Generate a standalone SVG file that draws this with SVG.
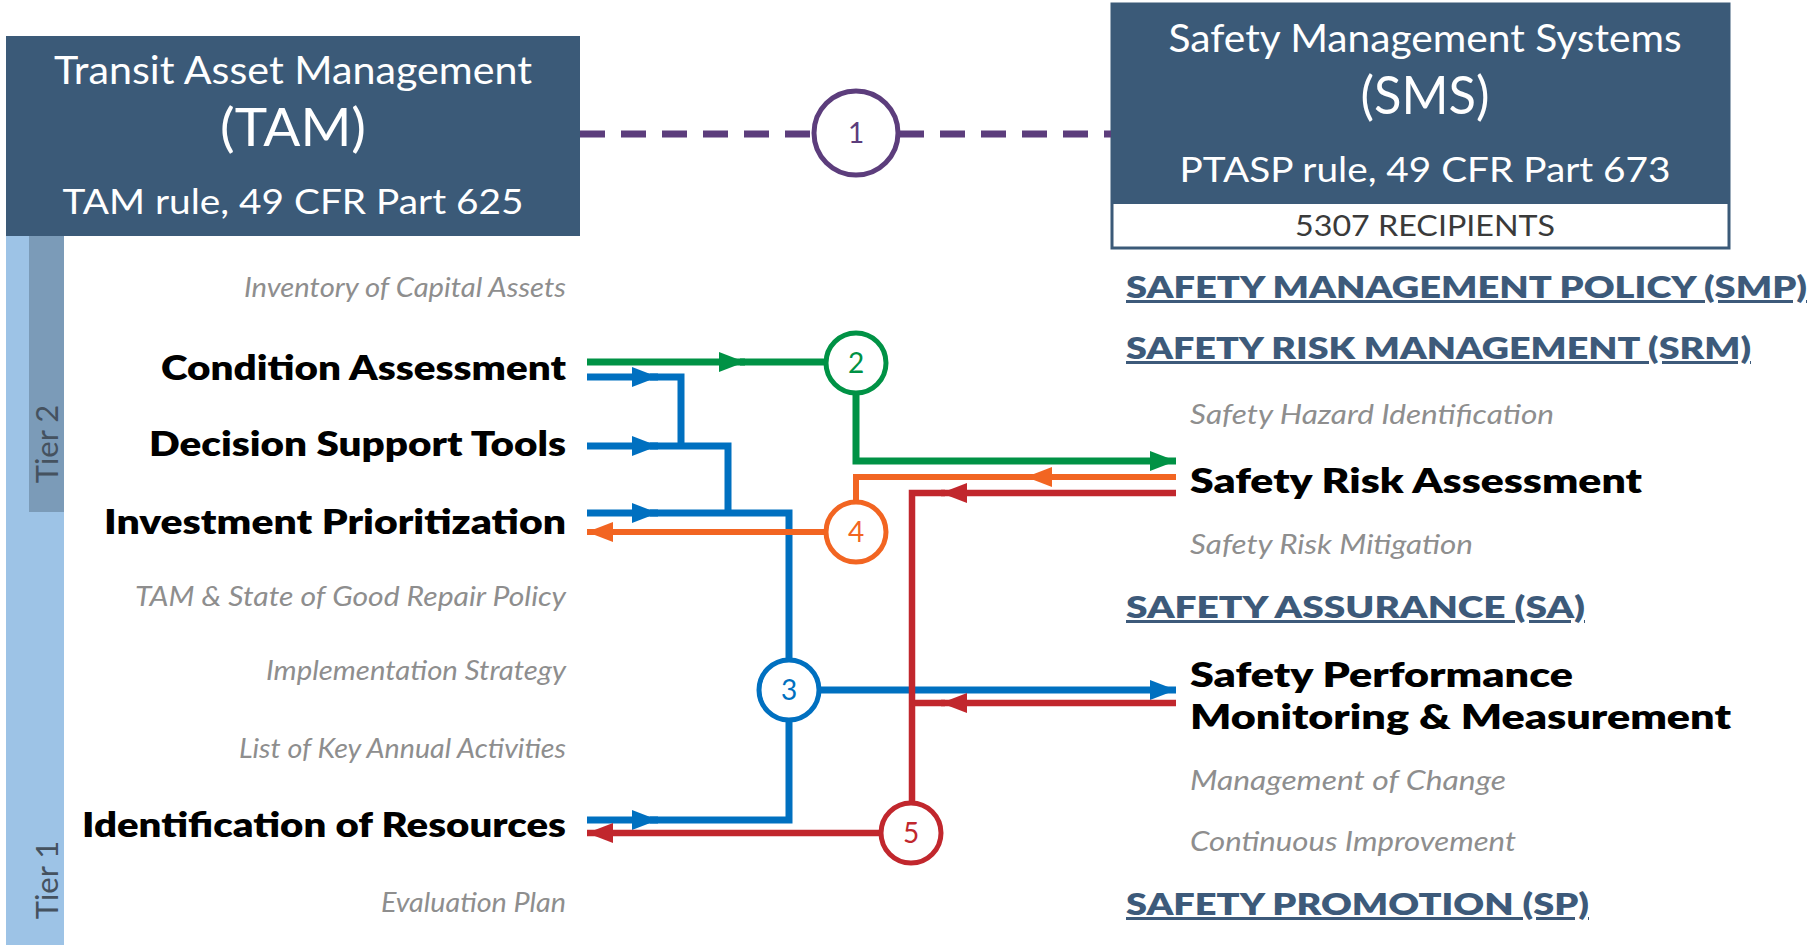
<svg xmlns="http://www.w3.org/2000/svg" xmlns:xlink="http://www.w3.org/1999/xlink" width="1811" height="945" viewBox="0 0 1811 945">
<style>
.t{font-family:"Lato","Liberation Sans",sans-serif}
.hw{fill:#ffffff}
.b{font-weight:800;font-size:34px;fill:#000}
.i{font-style:italic;font-size:27px;fill:#8e8e8e}
.h{font-weight:800;font-size:30px;fill:#3d5a7a;text-decoration:underline}
.num{font-size:28px;text-anchor:middle}
.cg{fill:#fff;stroke:#009245;stroke-width:5}
.cb{fill:#fff;stroke:#0070c0;stroke-width:5}
.co{fill:#fff;stroke:#f26522;stroke-width:5}
.cr{fill:#fff;stroke:#c1272d;stroke-width:5}
.lg{fill:none;stroke:#009245;stroke-width:7}
.lb{fill:none;stroke:#0070c0;stroke-width:7}
.lo{fill:none;stroke:#f26522;stroke-width:6}
.lr{fill:none;stroke:#c1272d;stroke-width:6.5}
</style>
<defs>
<marker id="mG" markerUnits="userSpaceOnUse" markerWidth="26" markerHeight="20" refX="26" refY="10" orient="auto"><path d="M0,0 L26,10 L0,20 z" fill="#009245"/></marker>
<marker id="mB" markerUnits="userSpaceOnUse" markerWidth="26" markerHeight="20" refX="26" refY="10" orient="auto"><path d="M0,0 L26,10 L0,20 z" fill="#0070c0"/></marker>
<marker id="mO" markerUnits="userSpaceOnUse" markerWidth="26" markerHeight="20" refX="26" refY="10" orient="auto"><path d="M0,0 L26,10 L0,20 z" fill="#f26522"/></marker>
<marker id="mR" markerUnits="userSpaceOnUse" markerWidth="26" markerHeight="20" refX="26" refY="10" orient="auto"><path d="M0,0 L26,10 L0,20 z" fill="#c1272d"/></marker>
</defs>
<rect width="1811" height="945" fill="#ffffff"/>

<g id="tiers">
<rect x="6" y="236" width="58" height="709" fill="#9dc3e6"/>
<rect x="29" y="236" width="35" height="276" fill="#7b9bb8"/>
<text class="t" transform="translate(58,444) rotate(-90)" text-anchor="middle" font-size="31" fill="#45525f">Tier 2</text>
<text class="t" transform="translate(58,880) rotate(-90)" text-anchor="middle" font-size="31" fill="#45525f">Tier 1</text>
</g>

<g id="tam">
<rect x="6" y="36" width="574" height="200" fill="#3b5a78"/>
<text class="t hw" x="293" y="84" text-anchor="middle" font-size="38" textLength="478" lengthAdjust="spacingAndGlyphs">Transit Asset Management</text>
<text class="t hw" x="293" y="146" text-anchor="middle" font-size="52" textLength="146" lengthAdjust="spacingAndGlyphs">(TAM)</text>
<text class="t hw" x="293" y="214" text-anchor="middle" font-size="35" textLength="461" lengthAdjust="spacingAndGlyphs">TAM rule, 49 CFR Part 625</text>
</g>

<g id="sms">
<rect x="1112" y="4" width="617" height="244" fill="#ffffff" stroke="#3b5a78" stroke-width="3"/>
<rect x="1111" y="3" width="619" height="201" fill="#3b5a78"/>
<text class="t hw" x="1425" y="52" text-anchor="middle" font-size="38" textLength="513" lengthAdjust="spacingAndGlyphs">Safety Management Systems</text>
<text class="t hw" x="1425" y="114" text-anchor="middle" font-size="52" textLength="129" lengthAdjust="spacingAndGlyphs">(SMS)</text>
<text class="t hw" x="1425" y="182" text-anchor="middle" font-size="35" textLength="491" lengthAdjust="spacingAndGlyphs">PTASP rule, 49 CFR Part 673</text>
<text class="t" x="1425" y="236" text-anchor="middle" font-size="29" fill="#3a3a3a" textLength="260" lengthAdjust="spacingAndGlyphs">5307 RECIPIENTS</text>
</g>

<g id="tam-items" class="t" text-anchor="end">
<text class="i" x="566" y="297" textLength="322" lengthAdjust="spacingAndGlyphs">Inventory of Capital Assets</text>
<text class="b" x="566" y="380" textLength="405" lengthAdjust="spacingAndGlyphs">Condition Assessment</text>
<text class="b" x="566" y="456" textLength="417" lengthAdjust="spacingAndGlyphs">Decision Support Tools</text>
<text class="b" x="566" y="534" textLength="462" lengthAdjust="spacingAndGlyphs">Investment Prioritization</text>
<text class="i" x="566" y="606" textLength="431" lengthAdjust="spacingAndGlyphs">TAM &amp; State of Good Repair Policy</text>
<text class="i" x="566" y="680" textLength="300" lengthAdjust="spacingAndGlyphs">Implementation Strategy</text>
<text class="i" x="566" y="758" textLength="327" lengthAdjust="spacingAndGlyphs">List of Key Annual Activities</text>
<text class="b" x="566" y="837" textLength="484" lengthAdjust="spacingAndGlyphs">Identification of Resources</text>
<text class="i" x="566" y="912" textLength="185" lengthAdjust="spacingAndGlyphs">Evaluation Plan</text>
</g>

<g id="sms-items" class="t">
<text class="h" x="1126" y="298" textLength="681" lengthAdjust="spacingAndGlyphs">SAFETY MANAGEMENT POLICY (SMP)</text>
<text class="h" x="1126" y="359" textLength="625" lengthAdjust="spacingAndGlyphs">SAFETY RISK MANAGEMENT (SRM)</text>
<text class="i" x="1190" y="424" textLength="364" lengthAdjust="spacingAndGlyphs">Safety Hazard Identification</text>
<text class="b" x="1190" y="493" textLength="452" lengthAdjust="spacingAndGlyphs">Safety Risk Assessment</text>
<text class="i" x="1190" y="554" textLength="283" lengthAdjust="spacingAndGlyphs">Safety Risk Mitigation</text>
<text class="h" x="1126" y="618" textLength="459" lengthAdjust="spacingAndGlyphs">SAFETY ASSURANCE (SA)</text>
<text class="b" x="1190" y="687" textLength="383" lengthAdjust="spacingAndGlyphs">Safety Performance</text>
<text class="b" x="1190" y="729" textLength="541" lengthAdjust="spacingAndGlyphs">Monitoring &amp; Measurement</text>
<text class="i" x="1190" y="790" textLength="316" lengthAdjust="spacingAndGlyphs">Management of Change</text>
<text class="i" x="1190" y="851" textLength="326" lengthAdjust="spacingAndGlyphs">Continuous Improvement</text>
<text class="h" x="1126" y="915" textLength="463" lengthAdjust="spacingAndGlyphs">SAFETY PROMOTION (SP)</text>
</g>

<g id="connectors">
<path d="M580,134 H813 M899,134 H1111" fill="none" stroke="#5c3d7c" stroke-width="7" stroke-dasharray="25 16"/>
<!-- green -->
<path class="lg" d="M587,362 H745" marker-end="url(#mG)"/>
<path class="lg" d="M740,362 H826"/>
<path class="lg" d="M856,393 V461 H1176" marker-end="url(#mG)"/>
<!-- blue -->
<path class="lb" d="M587,377 H658" marker-end="url(#mB)"/>
<path class="lb" d="M650,377 H681 V446"/>
<path class="lb" d="M587,446 H658" marker-end="url(#mB)"/>
<path class="lb" d="M650,446 H728 V513"/>
<path class="lb" d="M587,513 H658" marker-end="url(#mB)"/>
<path class="lb" d="M650,513 H789 V660"/>
<path class="lb" d="M789,720 V820 H650"/>
<path class="lb" d="M587,820 H658" marker-end="url(#mB)"/>
<path class="lb" d="M819,690 H1176" marker-end="url(#mB)"/>
<!-- orange -->
<path class="lo" d="M1176,477 H1026" marker-end="url(#mO)"/>
<path class="lo" d="M1030,477 H856 V502"/>
<path class="lo" d="M826,532 H587" marker-end="url(#mO)"/>
<!-- red -->
<path class="lr" d="M1176,493 H941" marker-end="url(#mR)"/>
<path class="lr" d="M945,493 H912 V803"/>
<path class="lr" d="M1176,703 H941" marker-end="url(#mR)"/>
<path class="lr" d="M945,703 H912"/>
<path class="lr" d="M881,833 H587" marker-end="url(#mR)"/>
</g>

<g id="c1">
<circle cx="856" cy="133" r="42" fill="#fff" stroke="#5c3d7c" stroke-width="5"/>
<text class="t num" x="856" y="143" fill="#5c3d7c">1</text>
</g>
<g id="c2">
<circle class="cg" cx="856" cy="363" r="30"/>
<text class="t num" x="856" y="373" fill="#009245">2</text>
</g>
<g id="c3">
<circle class="cb" cx="789" cy="690" r="30"/>
<text class="t num" x="789" y="700" fill="#0070c0">3</text>
</g>
<g id="c4">
<circle class="co" cx="856" cy="532" r="30"/>
<text class="t num" x="856" y="542" fill="#f26522">4</text>
</g>
<g id="c5">
<circle class="cr" cx="911" cy="833" r="30"/>
<text class="t num" x="911" y="843" fill="#c1272d">5</text>
</g>
</svg>
